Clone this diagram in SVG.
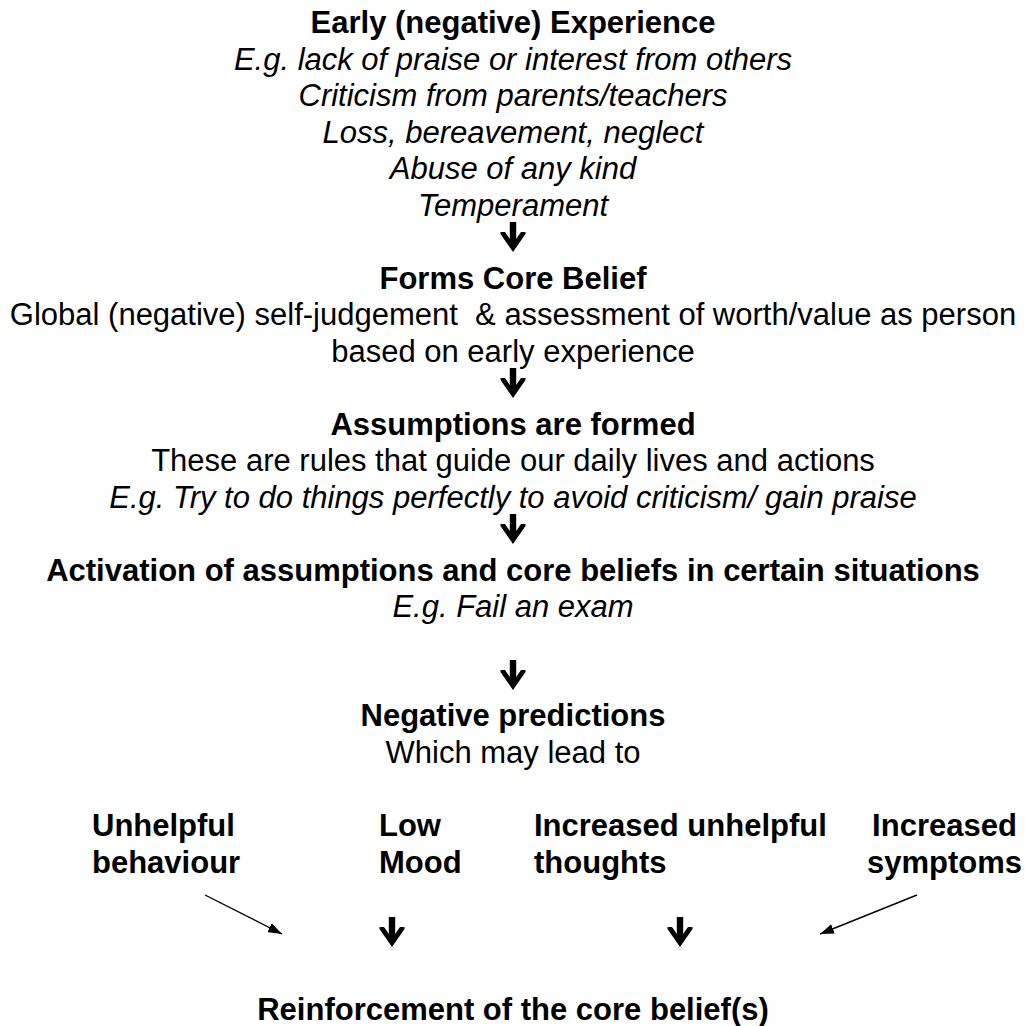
<svg xmlns="http://www.w3.org/2000/svg" width="1025" height="1026" viewBox="0 0 1025 1026">
<style>
text{font-family:"Liberation Sans",Arial,sans-serif;font-size:31px;fill:#000}
.c{text-anchor:middle}
.b{font-weight:bold}
.i{font-style:italic}
.arr{fill:#000}
.ln{stroke:#000;stroke-width:1.4;fill:none}
</style>
<defs>
<path id="darr" d="M-3.2,0 H3.2 V17 L8,10 H12.5 V12 L0,30 L-12.5,12 V10 H-8 L-3.2,17 Z"/>
<marker id="ah" viewBox="0 0 14 10" refX="14" refY="5" markerWidth="14" markerHeight="10" markerUnits="userSpaceOnUse" orient="auto">
<path d="M0,0 L14,5 L0,10 Z" fill="#000"/>
</marker>
</defs>
<rect width="1025" height="1026" fill="#fff"/>
<g id="early">
<text class="c b" x="513" y="33">Early (negative) Experience</text>
<text class="c i" x="513" y="69.5">E.g. lack of praise or interest from others</text>
<text class="c i" x="513" y="106">Criticism from parents/teachers</text>
<text class="c i" x="513" y="142.5">Loss, bereavement, neglect</text>
<text class="c i" x="513" y="179">Abuse of any kind</text>
<text class="c i" x="513" y="215.5">Temperament</text>
</g>
<g id="core">
<text class="c b" x="513" y="288.5">Forms Core Belief</text>
<text class="c" x="513" y="325" xml:space="preserve">Global (negative) self-judgement  &amp; assessment of worth/value as person</text>
<text class="c" x="513" y="361.5">based on early experience</text>
</g>
<g id="assumptions">
<text class="c b" x="513" y="434.5">Assumptions are formed</text>
<text class="c" x="513" y="471">These are rules that guide our daily lives and actions</text>
<text class="c i" x="513" y="507.5">E.g. Try to do things perfectly to avoid criticism/ gain praise</text>
</g>
<g id="activation">
<text class="c b" x="513" y="580.5">Activation of assumptions and core beliefs in certain situations</text>
<text class="c i" x="513" y="617">E.g. Fail an exam</text>
</g>
<g id="predictions">
<text class="c b" x="513" y="726">Negative predictions</text>
<text class="c" x="513" y="762.5">Which may lead to</text>
</g>
<g id="behaviour">
<text class="b" x="92" y="836">Unhelpful</text>
<text class="b" x="92" y="873">behaviour</text>
</g>
<g id="mood">
<text class="b" x="379" y="836">Low</text>
<text class="b" x="379" y="873">Mood</text>
</g>
<g id="thoughts">
<text class="b" x="534" y="836">Increased unhelpful</text>
<text class="b" x="534" y="873">thoughts</text>
</g>
<g id="symptoms">
<text class="c b" x="944.5" y="836">Increased</text>
<text class="c b" x="944.5" y="873">symptoms</text>
</g>
<g id="reinforcement">
<text class="c b" x="513" y="1020">Reinforcement of the core belief(s)</text>
</g>
<g id="connectors">
<use href="#darr" class="arr" x="513" y="222"/>
<use href="#darr" class="arr" x="513" y="368"/>
<use href="#darr" class="arr" x="513" y="514"/>
<use href="#darr" class="arr" x="513" y="660"/>
<use href="#darr" class="arr" x="392" y="917"/>
<use href="#darr" class="arr" x="680" y="917"/>
<line class="ln" x1="205" y1="895" x2="282" y2="934" marker-end="url(#ah)"/>
<line class="ln" x1="917" y1="895" x2="820" y2="934" marker-end="url(#ah)"/>
</g>
</svg>
